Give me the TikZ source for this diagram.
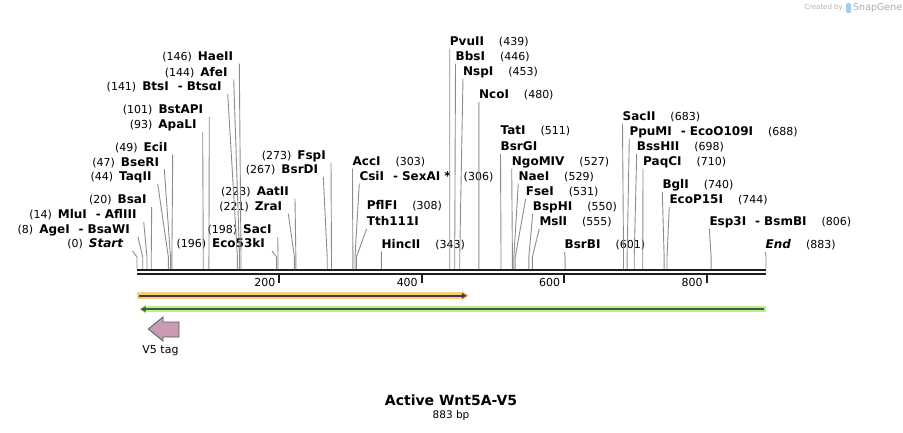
\documentclass[tikz,border=0pt]{standalone}
\usepackage{fontspec}
\setmainfont{DejaVu Sans}
\usetikzlibrary{arrows.meta,positioning}
\definecolor{cutgray}{RGB}{140,140,140}
\definecolor{mapblack}{RGB}{30,30,30}
\definecolor{featorange}{RGB}{250,204,122}
\definecolor{featgreen}{RGB}{188,240,142}
\definecolor{featdark}{RGB}{62,62,62}
\definecolor{featolive}{RGB}{74,90,62}
\definecolor{v5pink}{RGB}{201,155,181}
\definecolor{sglogo}{RGB}{160,205,240}
\newcommand\enz[1]{{\fontsize{12}{14}\selectfont\bfseries #1}}
\newcommand\dash{\hspace{9pt}-\hspace{4pt}}

\begin{document}
\begin{tikzpicture}[x=1pt,y=-1pt,
    lab/.style={inner sep=0pt,text height=9pt,text depth=3pt,
                font=\fontsize{11}{13}\selectfont},
    lablft/.style={lab,anchor=south east},
    labrgt/.style={lab,anchor=south west},
    cut/.style={cutgray,line width=0.9pt},
    mapline/.style={mapblack,line width=2.3pt},
    tick/.style={mapblack,line width=2pt},
    orgglow/.style={featorange,line width=6.5pt,-{Triangle[length=7pt,width=9pt]}},
    orgline/.style={featdark,line width=2.2pt,-{Triangle[length=5pt,width=5.5pt]}},
    grnglow/.style={featgreen,line width=6.5pt,-{Triangle[length=7pt,width=9pt]}},
    grnline/.style={featolive,line width=2.2pt,-{Triangle[length=5pt,width=5.5pt]}}]
\useasboundingbox (0,0) rectangle (903,432);

% map, in bp
\begin{scope}[xshift=137pt,x=0.71235pt]
  \coordinate (map) at (0,269);
  \coordinate (s0) at (0,257);     \coordinate (s8) at (8,257);
  \coordinate (s14) at (14,257);   \coordinate (s20) at (20,257);
  \coordinate (s44) at (44,257);   \coordinate (s47) at (47,257);
  \coordinate (s49) at (49,257);   \coordinate (s93) at (93,257);
  \coordinate (s101) at (101,257); \coordinate (s141) at (141,257);
  \coordinate (s144) at (144,257); \coordinate (s146) at (146,257);
  \coordinate (s196) at (196,257); \coordinate (s198) at (198,257);
  \coordinate (s221) at (221,257); \coordinate (s223) at (223,257);
  \coordinate (s267) at (267,257); \coordinate (s273) at (273,257);
  \coordinate (s303) at (303,257); \coordinate (s306) at (306,257);
  \coordinate (s308) at (308,257); \coordinate (s343) at (343,257);
  \coordinate (s439) at (439,257); \coordinate (s446) at (446,257);
  \coordinate (s453) at (453,257); \coordinate (s480) at (480,257);
  \coordinate (s511) at (511,257); \coordinate (s527) at (527,257);
  \coordinate (s529) at (529,257); \coordinate (s531) at (531,257);
  \coordinate (s550) at (550,257); \coordinate (s555) at (555,257);
  \coordinate (s601) at (601,257); \coordinate (s683) at (683,257);
  \coordinate (s688) at (688,257); \coordinate (s698) at (698,257);
  \coordinate (s710) at (710,257); \coordinate (s740) at (740,257);
  \coordinate (s744) at (744,257); \coordinate (s806) at (806,257);
  \coordinate (s883) at (883,257);

  \draw[mapline] (0,270.2) -- (883,270.2);
  \draw[mapline] (0,274.2) -- (883,274.2);
  \draw[tick] (200,275) -- (200,283);
  \draw[tick] (400,275) -- (400,283);
  \draw[tick] (600,275) -- (600,283);
  \draw[tick] (800,275) -- (800,283);
  \node[font=\fontsize{11}{13}\selectfont,anchor=base east,inner sep=0pt]
       (t200) at ([xshift=-4pt]200,286.3) {200};
  \node[font=\fontsize{11}{13}\selectfont,anchor=base east,inner sep=0pt]
       (t400) at ([xshift=-4pt]400,286.3) {400};
  \node[font=\fontsize{11}{13}\selectfont,anchor=base east,inner sep=0pt]
       (t600) at ([xshift=-4pt]600,286.3) {600};
  \node[font=\fontsize{11}{13}\selectfont,anchor=base east,inner sep=0pt]
       (t800) at ([xshift=-4pt]800,286.3) {800};

  % features
  \draw[orgglow] (0,295.7) -- (466,295.7);
  \draw[orgline] (3,295.7) -- (463,295.7);
  \draw[grnglow] (883,309.2) -- (3,309.2);
  \draw[grnline] (880,309.2) -- (5,309.2);
\end{scope}

% left labels
\node[lablft] (haeII)  at (233.3,63.7) {(146)\hspace{6pt}\enz{HaeII}};
\node[lablft] (afeI)   at (227.7,79.3) {(144)\hspace{6pt}\enz{AfeI}};
\node[lablft] (btsI)   at (221.7,93.7) {(141)\hspace{6pt}\enz{BtsI\dash BtsαI}};
\node[lablft] (bstAPI) at (203.3,117)  {(101)\hspace{6pt}\enz{BstAPI}};
\node[lablft] (apaLI)  at (196.7,132)  {(93)\hspace{6pt}\enz{ApaLI}};
\node[lablft] (eciI)   at (167.7,154.3) {(49)\hspace{6pt}\enz{EciI}};
\node[lablft] (bseRI)  at (159.3,169.3) {(47)\hspace{6pt}\enz{BseRI}};
\node[lablft] (taqII)  at (151.7,183.7) {(44)\hspace{6pt}\enz{TaqII}};
\node[lablft] (bsaI)   at (146.7,207)  {(20)\hspace{6pt}\enz{BsaI}};
\node[lablft] (mluI)   at (136.7,222)  {(14)\hspace{6pt}\enz{MluI\dash AflIII}};
\node[lablft] (ageI)   at (130,237)    {(8)\hspace{6pt}\enz{AgeI\dash BsaWI}};
\node[lablft] (start)  at (123.3,251)  {(0)\hspace{6pt}\enz{\itshape Start}};
\node[lablft] (fspI)   at (326,162.7)  {(273)\hspace{6pt}\enz{FspI}};
\node[lablft] (bsrDI)  at (318.3,177)  {(267)\hspace{6pt}\enz{BsrDI}};
\node[lablft] (aatII)  at (289,198.7)  {(223)\hspace{6pt}\enz{AatII}};
\node[lablft] (zraI)   at (282.3,213.7) {(221)\hspace{6pt}\enz{ZraI}};
\node[lablft] (sacI)   at (271.7,237)  {(198)\hspace{6pt}\enz{SacI}};
\node[lablft] (eco53kI) at (265,251)   {(196)\hspace{6pt}\enz{Eco53kI}};

% right labels
\node[labrgt] (pvuII)  at (449.7,48.7) {\enz{PvuII}\hspace{15pt}(439)};
\node[labrgt] (bbsI)   at (455.5,63.7) {\enz{BbsI}\hspace{15pt}(446)};
\node[labrgt] (nspI)   at (463,78.7)   {\enz{NspI}\hspace{15pt}(453)};
\node[labrgt] (ncoI)   at (478.9,102)  {\enz{NcoI}\hspace{15pt}(480)};
\node[labrgt] (tatI)   at (500.5,137.7) {\enz{TatI}\hspace{15pt}(511)};
\node[labrgt] (bsrGI)  at (500.5,153.7) {\enz{BsrGI}};
\node[labrgt] (ngoMIV) at (511.7,168.7) {\enz{NgoMIV}\hspace{15pt}(527)};
\node[labrgt] (naeI)   at (518.3,183.7) {\enz{NaeI}\hspace{15pt}(529)};
\node[labrgt] (fseI)   at (525.7,198.7) {\enz{FseI}\hspace{15pt}(531)};
\node[labrgt] (bspHI)  at (532.7,213.7) {\enz{BspHI}\hspace{15pt}(550)};
\node[labrgt] (mslI)   at (539.3,228.7) {\enz{MslI}\hspace{15pt}(555)};
\node[labrgt] (bsrBI)  at (564.5,252)  {\enz{BsrBI}\hspace{15pt}(601)};
\node[labrgt] (accI)   at (352.5,168.7) {\enz{AccI}\hspace{15pt}(303)};
\node[labrgt] (csiI)   at (359.3,183.7) {\enz{CsiI\dash SexAI *}\hspace{13pt}(306)};
\node[labrgt] (pflFI)  at (366.7,213)  {\enz{PflFI}\hspace{15pt}(308)};
\node[labrgt] (tth111I) at (366.7,228.7) {\enz{Tth111I}};
\node[labrgt] (hincII) at (381.5,251.3) {\enz{HincII}\hspace{15pt}(343)};
\node[labrgt] (sacII)  at (622.5,123.7) {\enz{SacII}\hspace{15pt}(683)};
\node[labrgt] (ppuMI)  at (629.3,138.7) {\enz{PpuMI\dash EcoO109I}\hspace{15pt}(688)};
\node[labrgt] (bssHII) at (636.7,153.7) {\enz{BssHII}\hspace{15pt}(698)};
\node[labrgt] (paqCI)  at (643,168.7)  {\enz{PaqCI}\hspace{15pt}(710)};
\node[labrgt] (bglI)   at (662.3,192)  {\enz{BglI}\hspace{15pt}(740)};
\node[labrgt] (ecoP15I) at (669.3,207) {\enz{EcoP15I}\hspace{15pt}(744)};
\node[labrgt] (esp3I)  at (709.3,228.7) {\enz{Esp3I\dash BsmBI}\hspace{15pt}(806)};
\node[labrgt] (end)    at (765.5,252)  {\enz{\itshape End}\hspace{15pt}(883)};

% cut lines
\draw[cut] ([xshift=6pt]haeII.south east) -- (s146) -- (s146 |- map);
\draw[cut] ([xshift=6pt]afeI.south east) -- (s144) -- (s144 |- map);
\draw[cut] ([xshift=6pt]btsI.south east) -- (s141) -- (s141 |- map);
\draw[cut] ([xshift=6pt]bstAPI.south east) -- (s101) -- (s101 |- map);
\draw[cut] ([xshift=6pt]apaLI.south east) -- (s93) -- (s93 |- map);
\draw[cut] ([xshift=5pt]eciI.south east) -- (s49) -- (s49 |- map);
\draw[cut] ([xshift=5pt]bseRI.south east) -- (s47) -- (s47 |- map);
\draw[cut] ([xshift=6pt]taqII.south east) -- (s44) -- (s44 |- map);
\draw[cut] ([xshift=5pt]bsaI.south east) -- (s20) -- (s20 |- map);
\draw[cut] ([xshift=7pt]mluI.south east) -- (s14) -- (s14 |- map);
\draw[cut] ([xshift=8pt]ageI.south east) -- (s8) -- (s8 |- map);
\draw[cut] ([xshift=9pt]start.south east) -- (s0) -- (s0 |- map);
\draw[cut] ([xshift=5pt]fspI.south east) -- (s273) -- (s273 |- map);
\draw[cut] ([xshift=5pt]bsrDI.south east) -- (s267) -- (s267 |- map);
\draw[cut] ([xshift=6pt]aatII.south east) -- (s223) -- (s223 |- map);
\draw[cut] ([xshift=6pt]zraI.south east) -- (s221) -- (s221 |- map);
\draw[cut] ([xshift=6pt]sacI.south east) -- (s198) -- (s198 |- map);
\draw[cut] ([xshift=7pt]eco53kI.south east) -- (s196) -- (s196 |- map);
\draw[cut] (pvuII.south west) -- (s439) -- (s439 |- map);
\draw[cut] (bbsI.south west) -- (s446) -- (s446 |- map);
\draw[cut] (nspI.south west) -- (s453) -- (s453 |- map);
\draw[cut] (ncoI.south west) -- (s480) -- (s480 |- map);
\draw[cut] (bsrGI.south west) -- (s511) -- (s511 |- map);
\draw[cut] (ngoMIV.south west) -- (s527) -- (s527 |- map);
\draw[cut] (naeI.south west) -- (s529) -- (s529 |- map);
\draw[cut] (fseI.south west) -- (s531) -- (s531 |- map);
\draw[cut] (bspHI.south west) -- (s550) -- (s550 |- map);
\draw[cut] (mslI.south west) -- (s555) -- (s555 |- map);
\draw[cut] (bsrBI.south west) -- (s601) -- (s601 |- map);
\draw[cut] (accI.south west) -- (s303) -- (s303 |- map);
\draw[cut] (csiI.south west) -- (s306) -- (s306 |- map);
\draw[cut] (tth111I.south west) -- (s308) -- (s308 |- map);
\draw[cut] (hincII.south west) -- (s343) -- (s343 |- map);
\draw[cut] (sacII.south west) -- (s683) -- (s683 |- map);
\draw[cut] (ppuMI.south west) -- (s688) -- (s688 |- map);
\draw[cut] (bssHII.south west) -- (s698) -- (s698 |- map);
\draw[cut] (paqCI.south west) -- (s710) -- (s710 |- map);
\draw[cut] (bglI.south west) -- (s740) -- (s740 |- map);
\draw[cut] (ecoP15I.south west) -- (s744) -- (s744 |- map);
\draw[cut] (esp3I.south west) -- (s806) -- (s806 |- map);
\draw[cut] (end.south west) -- (s883) -- (s883 |- map);

% V5 tag
\draw[fill=v5pink,draw=black!65,line width=0.8pt]
  (148.3,329) -- (163,317) -- (163,322) -- (179,322) -- (179,337)
  -- (163,337) -- (163,341) -- cycle;
\node[font=\fontsize{11}{13}\selectfont,inner sep=0pt] (v5) at (160.5,350.5) {V5 tag};

% title
\node[font=\fontsize{14}{16}\selectfont\bfseries,inner sep=0pt] (title) at (451,400.5) {Active Wnt5A-V5};
\node[font=\fontsize{10.5}{12}\selectfont,inner sep=0pt] (len) at (451,415.5) {883 bp};

% watermark
\node[font=\fontsize{7}{8}\selectfont,text=black!30,inner sep=0pt,anchor=east] (made) at (843,7.5) {Created by};
\fill[sglogo,rounded corners=1.5pt] (846,3) rectangle (851,13);
\node[font=\fontsize{9.5}{11}\selectfont,text={rgb,255:red,165;green,172;blue,185},inner sep=0pt,anchor=west] (sg) at (853,8) {SnapGene};
\end{tikzpicture}
\end{document}
